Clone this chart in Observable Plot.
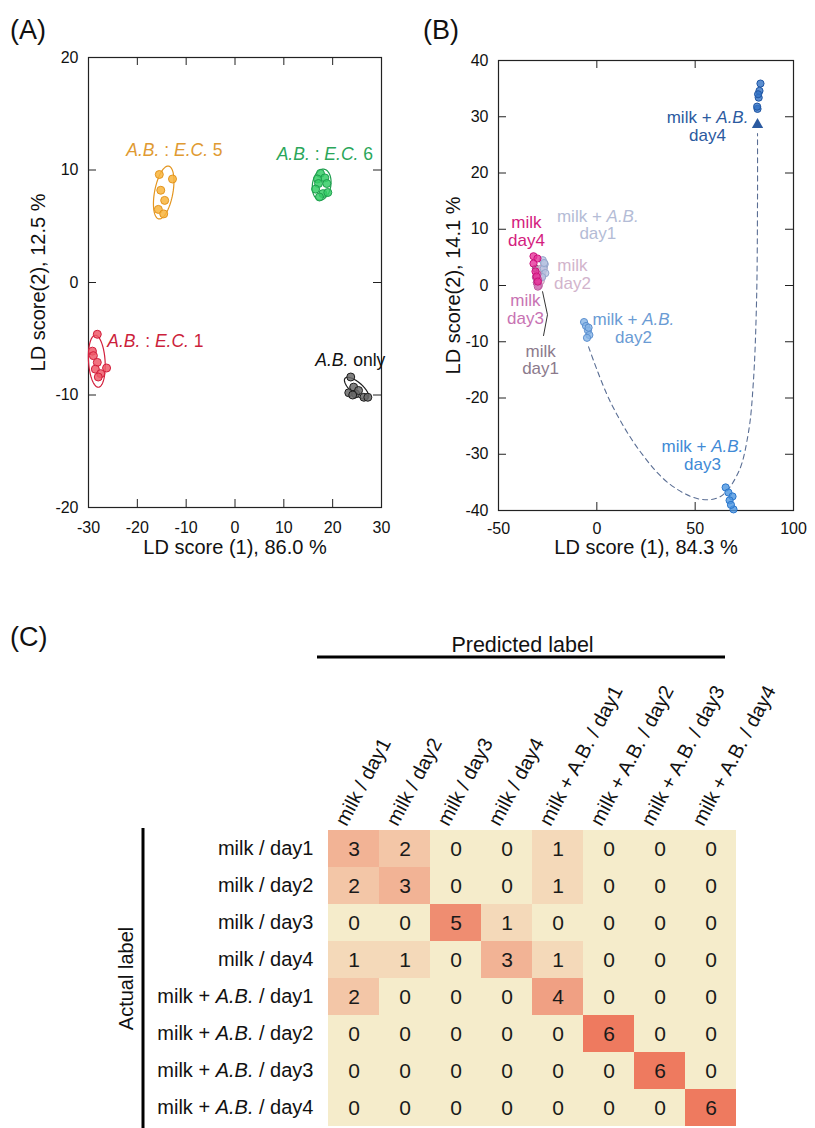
<!DOCTYPE html>
<html><head><meta charset="utf-8">
<script src="https://cdn.jsdelivr.net/npm/d3@7"></script>
<script src="https://cdn.jsdelivr.net/npm/@observablehq/plot@0.6"></script>
<style>
body{margin:0;background:#fff;font-family:"Liberation Sans",Arial,sans-serif;}
#root{position:relative;width:815px;height:1128px;overflow:hidden;background:#fff;}
.panel{position:absolute;}
.plabel{position:absolute;font-size:27px;line-height:30px;color:#111;}
</style></head><body><div id="root"></div>
<script>
// ---------------- Panel A data ----------------
const xTicksA = [-30, -20, -10, 0, 10, 20, 30];
const yTicksA = [-20, -10, 0, 10, 20];
const xTitleA = "LD score (1), 86.0 %";
const yTitleA = "LD score(2), 12.5 %";

const ec5X = [-15.5, -12.8, -15.2, -14.4, -15.7, -14.6];
const ec5Y = [9.6, 9.2, 8.2, 7.3, 6.5, 6.1];
const ec6X = [17.5, 18.4, 16.9, 18.8, 17.1, 16.5, 18.0, 19.0, 17.3];
const ec6Y = [9.7, 9.3, 9.2, 8.8, 8.8, 8.3, 7.9, 8.0, 7.6];
const ec1X = [-28.2, -29.2, -29.0, -28.2, -28.6, -27.5, -26.3, -28.0];
const ec1Y = [-4.6, -6.1, -6.5, -7.1, -7.7, -8.1, -7.6, -8.4];
const abX = [23.7, 23.3, 24.3, 24.7, 25.3, 26.4, 27.2, 24.1];
const abY = [-8.4, -9.8, -9.3, -9.9, -9.6, -10.2, -10.2, -10.0];

const groupsA = ["A.B. : E.C. 5", "A.B. : E.C. 6", "A.B. : E.C. 1", "A.B. only"];
const labelXA = [-12.4, 18.4, -16.3, 23.6];
const labelYA = [11.7, 11.4, -5.2, -6.9];
// ellipse: center, first half-axis vector, second half-axis vector (data units)
const ellCxA = [-14.6, 17.75, -28.3, 24.9];
const ellCyA = [8.0, 8.7, -7.0, -9.4];
const ellAxA = [0.9, 0.3, -0.3, 2.36];
const ellAyA = [2.35, 1.38, 2.31, -0.89];
const ellBxA = [1.9, 1.9, 1.7, 0.8];
const ellByA = [0, 0, 0, 0.4];

// ---------------- Panel B data ----------------
const xTicksB = [-50, 0, 50, 100];
const yTicksB = [-40, -30, -20, -10, 0, 10, 20, 30, 40];
const xTitleB = "LD score (1), 84.3 %";
const yTitleB = "LD score(2), 14.1 %";

const milkD1X = [-31.0, -30.0, -29.5, -30.5, -29.0, -30.8];
const milkD1Y = [3.0, 2.0, 1.0, 0.5, 2.5, 1.5];
const milkD2X = [-27.5, -28.0, -27.0, -28.5, -27.8, -28.2];
const milkD2Y = [2.5, 1.5, 3.3, 0.8, 2.0, 3.0];
const milkD3X = [-30.5, -29.5, -31.0, -30.0, -29.8, -30.2];
const milkD3Y = [0.5, 0.0, 1.5, -0.2, 1.0, 2.0];
const milkD4X = [-32.2, -30.2, -31.2, -32.2, -30.6, -30.0];
const milkD4Y = [5.2, 4.8, 2.5, 3.9, 1.6, 0.7];
const abD1X = [-27.5, -26.5, -27.0, -26.2, -27.8, -26.8];
const abD1Y = [4.5, 3.8, 3.0, 2.2, 1.5, 4.0];
const abD2X = [-6.5, -5.5, -4.5, -3.8, -5.0, -4.2];
const abD2Y = [-6.5, -7.2, -8.0, -8.8, -9.3, -7.5];
const abD3X = [65.5, 66.9, 69.0, 67.5, 69.5, 68.2];
const abD3Y = [-35.9, -36.8, -37.5, -38.2, -39.8, -39.0];
const abD4X = [81.7, 82.3, 82.7, 83.2, 81.5, 82.0];
const abD4Y = [31.4, 33.4, 34.6, 35.9, 31.8, 34.0];

const groupsB = ["milk\nday1", "milk\nday2", "milk\nday3", "milk\nday4",
  "milk + A.B.\nday1", "milk + A.B.\nday2", "milk + A.B.\nday3", "milk + A.B.\nday4"];
const labelXB = [-28.6, -12.4, -36.3, -35.8, 0.5, 18.6, 53.7, 56.3];
const labelYB = [-13.2, 2.0, -4.3, 9.6, 10.8, -7.6, -30.2, 28.3];

// trajectory (dashed) and leader line
const trajX = [-4.2, 6.9, 22.2, 37.4, 52.7, 62.9, 72.0, 77.1, 79.6, 81.2, 81.7, 81.7];
const trajY = [-10.9, -20.7, -29.6, -35.4, -38.0, -37.5, -33.2, -26.1, -17.1, -2.9, 15.0, 27.0];
const arrowX = [81.7];
const arrowY = [28.6];
const leaderX = [-27.6, -25.1, -27.1];
const leaderY = [-1.1, -5.2, -8.9];

// ---------------- Panel C data ----------------
const predictedLabels = ["milk / day1", "milk / day2", "milk / day3", "milk / day4",
  "milk + A.B. / day1", "milk + A.B. / day2", "milk + A.B. / day3", "milk + A.B. / day4"];
const actualLabels = predictedLabels.slice();
const confusion = [
  [3, 2, 0, 0, 1, 0, 0, 0],
  [2, 3, 0, 0, 1, 0, 0, 0],
  [0, 0, 5, 1, 0, 0, 0, 0],
  [1, 1, 0, 3, 1, 0, 0, 0],
  [2, 0, 0, 0, 4, 0, 0, 0],
  [0, 0, 0, 0, 0, 6, 0, 0],
  [0, 0, 0, 0, 0, 0, 6, 0],
  [0, 0, 0, 0, 0, 0, 0, 6]
];

// ---------------- styles ----------------
const FONT = '"Liberation Sans", Arial, Helvetica, sans-serif';
const fillA = ["#f8b43c", "#35cc66", "#ef5a6a", "#6a6a6a"];
const strokeA = ["#e3951f", "#1f9e4e", "#d21f3c", "#1e1e1e"];
const textA = ["#e09a32", "#2aa65a", "#cc1f3c", "#111111"];
const fillB = ["#a58aa3", "#e2bcd6", "#d57ebb", "#e6339a", "#b9c6e2", "#86b4e6", "#4b95e0", "#3272c4"];
const strokeB = ["#7d657b", "#c99ab9", "#bb5a9f", "#cc137d", "#94a6cc", "#5b8fcf", "#2c77cc", "#1f55a3"];
const textB = ["#8c7a8c", "#d2b4cc", "#c873b3", "#d4207e", "#b4bcd6", "#6a9bd4", "#3f8ad6", "#2b5aa0"];

function toRows(xs, ys, g) { return xs.map((x, i) => ({x, y: ys[i], g})); }
function ellipsePts(cx, cy, ax, ay, bx, by, g) {
  const n = 80, out = [];
  for (let i = 0; i <= n; i++) {
    const t = 2 * Math.PI * i / n;
    out.push({x: cx + Math.cos(t) * ax + Math.sin(t) * bx, y: cy + Math.cos(t) * ay + Math.sin(t) * by, g});
  }
  return out;
}
function frameTicks(xt, yt, W, H, len = 8) {
  return [
    Plot.tickX(xt, {x: d => d, insetTop: H - len, stroke: "#222"}),
    Plot.tickX(xt, {x: d => d, insetBottom: H - len, stroke: "#222"}),
    Plot.tickY(yt, {y: d => d, insetRight: W - len, stroke: "#222"}),
    Plot.tickY(yt, {y: d => d, insetLeft: W - len, stroke: "#222"})
  ];
}
const svgNS = "http://www.w3.org/2000/svg";
function italicize(svg, skip) {
  const re = /(A\.B\.|E\.C\.)/;
  const walker = document.createTreeWalker(svg, NodeFilter.SHOW_TEXT);
  const nodes = [];
  while (walker.nextNode()) nodes.push(walker.currentNode);
  for (const n of nodes) {
    if (!re.test(n.nodeValue)) continue;
    const host = n.parentNode.closest("text");
    if (skip && host && skip(host)) continue;
    const frag = document.createDocumentFragment();
    for (const p of n.nodeValue.split(re)) {
      if (!p) continue;
      if (re.test(p)) {
        const t = document.createElementNS(svgNS, "tspan");
        t.setAttribute("font-style", "italic");
        t.textContent = p;
        frag.appendChild(t);
      } else frag.appendChild(document.createTextNode(p));
    }
    n.parentNode.replaceChild(frag, n);
  }
}

const root = document.getElementById("root");
function place(el, left, top) {
  const d = document.createElement("div");
  d.className = "panel";
  d.style.left = left + "px"; d.style.top = top + "px";
  d.appendChild(el); root.appendChild(d);
}
function plabel(txt, left, top) {
  const d = document.createElement("div");
  d.className = "plabel"; d.textContent = txt;
  d.style.left = left + "px"; d.style.top = top + "px";
  root.appendChild(d);
}

// ---------------- Panel A ----------------
{
  const W = 410, H = 580, mL = 88, mR = 29, mT = 57, mB = 73;
  const ptsA = [toRows(ec5X, ec5Y, 0), toRows(ec6X, ec6Y, 1), toRows(ec1X, ec1Y, 2), toRows(abX, abY, 3)];
  const ells = groupsA.map((g, i) => ellipsePts(ellCxA[i], ellCyA[i], ellAxA[i], ellAyA[i], ellBxA[i], ellByA[i], i));
  const labs = groupsA.map((t, i) => ({t, x: labelXA[i], y: labelYA[i], i}));
  const marks = [
    Plot.frame({stroke: "#222", strokeWidth: 1.2}),
    ...frameTicks(xTicksA.slice(1, -1), yTicksA.slice(1, -1), W - mL - mR, H - mT - mB),
    Plot.axisX({ticks: xTicksA, tickSize: 0, tickPadding: 14, fontSize: 16, tickFormat: d => String(d), label: null}),
    Plot.axisY({ticks: yTicksA, tickSize: 0, tickPadding: 10, fontSize: 16, tickFormat: d => String(d), label: null}),
    Plot.text([xTitleA], {text: d => d, frameAnchor: "bottom", dy: 46, fontSize: 20, fill: "#111"}),
    Plot.text([yTitleA], {text: d => d, frameAnchor: "left", textAnchor: "middle", dx: -50, rotate: -90, fontSize: 20, fill: "#111"})
  ];
  ells.forEach((e, i) => marks.push(Plot.line(e, {x: "x", y: "y", stroke: strokeA[i], strokeWidth: 1.2})));
  ptsA.forEach((p, i) => marks.push(Plot.dot(p, {x: "x", y: "y", r: 4, fill: fillA[i], fillOpacity: 0.85, stroke: strokeA[i], strokeWidth: 1})));
  labs.forEach((l, i) => marks.push(Plot.text([l], {x: "x", y: "y", text: "t", fill: textA[i], fontSize: 17.5})));
  const svg = Plot.plot({
    width: W, height: H, marginLeft: mL, marginRight: mR, marginTop: mT, marginBottom: mB,
    style: {fontFamily: FONT, fontSize: "16px", color: "#111", background: "transparent", overflow: "visible"},
    x: {domain: [-30, 30]}, y: {domain: [-20, 20]},
    marks
  });
  italicize(svg);
  place(svg, 0, 0);
}

// ---------------- Panel B ----------------
{
  const W = 405, H = 580, mL = 88, mR = 22, mT = 60, mB = 70;
  const pts = [toRows(milkD1X, milkD1Y, 0), toRows(milkD2X, milkD2Y, 1), toRows(milkD3X, milkD3Y, 2), toRows(milkD4X, milkD4Y, 3),
    toRows(abD1X, abD1Y, 4), toRows(abD2X, abD2Y, 5), toRows(abD3X, abD3Y, 6), toRows(abD4X, abD4Y, 7)];
  const order = [0, 1, 4, 2, 3, 5, 6, 7];
  const marks = [
    Plot.frame({stroke: "#222", strokeWidth: 1.2}),
    ...frameTicks(xTicksB.slice(1, -1), yTicksB.slice(1, -1), W - mL - mR, H - mT - mB),
    Plot.axisX({ticks: xTicksB, tickSize: 0, tickPadding: 12, fontSize: 16, tickFormat: d => String(d), label: null}),
    Plot.axisY({ticks: yTicksB, tickSize: 0, tickPadding: 10, fontSize: 16, tickFormat: d => String(d), label: null}),
    Plot.text([xTitleB], {text: d => d, frameAnchor: "bottom", dy: 43, fontSize: 20, fill: "#111"}),
    Plot.text([yTitleB], {text: d => d, frameAnchor: "left", textAnchor: "middle", dx: -45, rotate: -90, fontSize: 20, fill: "#111"}),
    Plot.line(toRows(trajX, trajY, 0), {x: "x", y: "y", curve: "catmull-rom", stroke: "#5a6e94", strokeWidth: 1.1, strokeDasharray: "5,4"}),
    Plot.dot(toRows(arrowX, arrowY, 0), {x: "x", y: "y", symbol: "triangle", r: 4.2, fill: "#2b5aa0"}),
    Plot.line(toRows(leaderX, leaderY, 0), {x: "x", y: "y", stroke: "#333", strokeWidth: 1})
  ];
  order.forEach(i => marks.push(Plot.dot(pts[i], {x: "x", y: "y", r: 3.6, fill: fillB[i], fillOpacity: 0.8, stroke: strokeB[i], strokeWidth: 1})));
  groupsB.forEach((t, i) => marks.push(Plot.text([{t, x: labelXB[i], y: labelYB[i]}], {x: "x", y: "y", text: "t", fill: textB[i], fontSize: 17, lineHeight: 1.05})));
  const svg = Plot.plot({
    width: W, height: H, marginLeft: mL, marginRight: mR, marginTop: mT, marginBottom: mB,
    style: {fontFamily: FONT, fontSize: "16px", color: "#111", background: "transparent", overflow: "visible"},
    x: {domain: [-50, 100]}, y: {domain: [-40, 40]},
    marks
  });
  italicize(svg);
  place(svg, 410, 0);
}

// ---------------- Panel C ----------------
{
  const W = 815, H = 548, mL = 325, mR = 76, mT = 248, mB = 0;
  const cells = [];
  actualLabels.forEach((a, r) => predictedLabels.forEach((p, c) => cells.push({a, p, v: confusion[r][c]})));
  const svg = Plot.plot({
    width: W, height: H, marginLeft: mL, marginRight: mR, marginTop: mT, marginBottom: mB,
    style: {fontFamily: FONT, fontSize: "20px", color: "#111", background: "transparent", overflow: "visible"},
    x: {domain: predictedLabels, padding: 0, axis: null},
    y: {domain: actualLabels, padding: 0},
    color: {type: "linear", domain: [0, 6], range: ["#f5eccb", "#ee7a5f"]},
    marks: [
      Plot.cell(cells, {x: "p", y: "a", fill: "v"}),
      Plot.text(cells, {x: "p", y: "a", text: d => String(d.v), fontSize: 21, fill: "#1a1a1a"}),
      Plot.axisY({tickSize: 0, tickPadding: 12, fontSize: 20, label: null}),
      Plot.text(predictedLabels, {x: d => d, text: d => d, frameAnchor: "top", rotate: -62, textAnchor: "start", dx: -20, dy: -8, fontSize: 20, fill: "#111"}),
      Plot.text(["Predicted label"], {text: d => d, frameAnchor: "top", textAnchor: "middle", dx: -10, dy: -192, fontSize: 21.5, fill: "#111"}),
      Plot.text(["Actual label"], {text: d => d, frameAnchor: "left", textAnchor: "middle", dx: -199, rotate: -90, fontSize: 20, fill: "#111"})
    ]
  });
  const s = d3.select(svg);
  s.append("line").attr("x1", 317).attr("x2", 725).attr("y1", 77).attr("y2", 77).attr("stroke", "#000").attr("stroke-width", 3);
  s.append("line").attr("x1", 143).attr("x2", 143).attr("y1", mT).attr("y2", H).attr("stroke", "#000").attr("stroke-width", 3);
  italicize(svg, host => (host.getAttribute("transform") || "").includes("rotate(-62"));
  place(svg, 0, 580);
}

plabel("(A)", 10, 15);
plabel("(B)", 423, 15);
plabel("(C)", 10, 622);
</script></body></html>
